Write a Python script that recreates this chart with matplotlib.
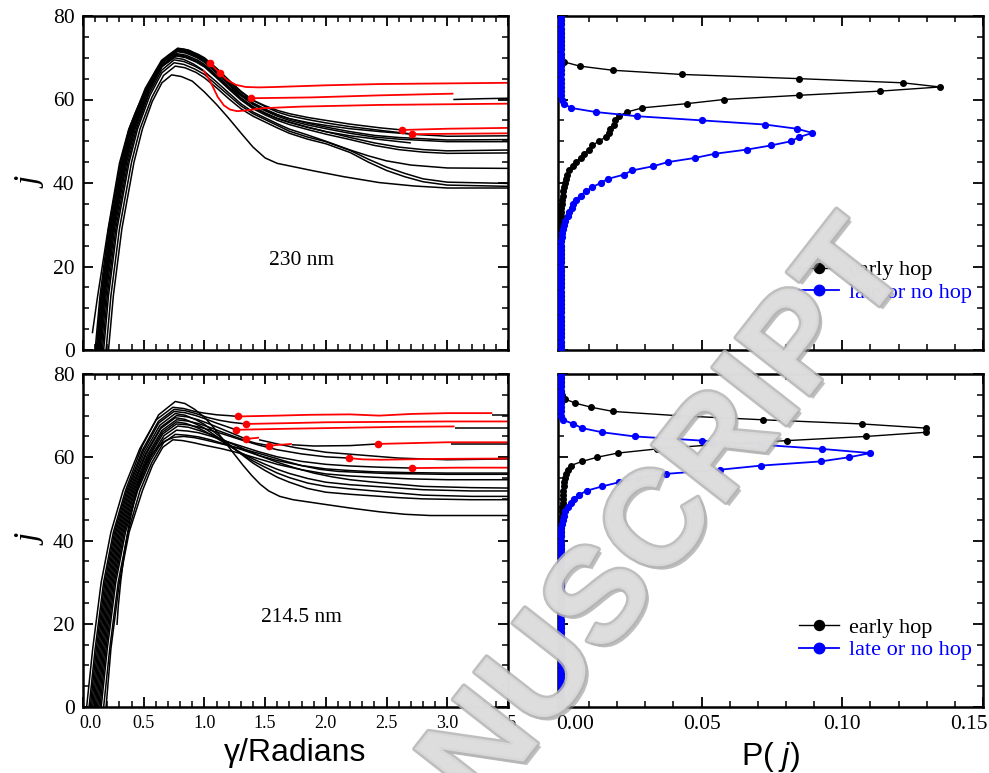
import matplotlib
matplotlib.use("Agg")
import matplotlib.pyplot as plt
import matplotlib.patheffects as pe
from matplotlib.ticker import MultipleLocator, FormatStrFormatter
from matplotlib.transforms import ScaledTranslation

plt.rcParams['font.family'] = ['Liberation Serif', 'DejaVu Serif']
plt.rcParams['mathtext.fontset'] = 'custom'
plt.rcParams['mathtext.it'] = 'Liberation Sans:italic'
plt.rcParams['mathtext.rm'] = 'Liberation Sans'

# ---- trajectories j(gamma), 230 nm ----
TOP_BLACK = [
    [(0.21, 0), (0.25, 13), (0.32, 29), (0.42, 45), (0.49, 53), (0.57, 59.5), (0.65, 64.0), (0.73, 65.9),
     (0.81, 65.5), (0.90, 64.4), (1.0, 61.8), (1.1, 58.8), (1.2, 55.5), (1.3, 52.0), (1.4, 48.6), (1.5, 46.0),
     (1.6, 44.7), (1.75, 43.8), (1.9, 42.9), (2.15, 41.5), (2.44, 40.1), (2.72, 39.3), (3.0, 38.8), (3.5, 38.8)],
    [(0.19, 0), (0.23, 13), (0.30, 29), (0.40, 45), (0.47, 53), (0.567, 60.5), (0.663, 65.75), (0.76, 68),
     (0.84, 67.6), (0.93, 66.5), (1.0, 65.2), (1.1, 62.8), (1.2, 60.2), (1.3, 57.8), (1.4, 56.0), (1.5, 54.6),
     (1.6, 53.2), (1.7, 51.9), (1.85, 50.5), (2.0, 49.4), (2.2, 47.3), (2.35, 45.0), (2.5, 43.0), (2.65, 41.5),
     (2.8, 40.3), (3.0, 39.5), (3.5, 39.2)],
    [(0.17, 0), (0.21, 13), (0.28, 29), (0.38, 45), (0.45, 53), (0.55, 60.9), (0.65, 66.4), (0.75, 68.8),
     (0.83, 68.4), (0.92, 67.3), (1.0, 66.0), (1.1, 63.5), (1.2, 61.0), (1.3, 58.5), (1.4, 56.6), (1.5, 55.2),
     (1.6, 53.8), (1.7, 52.4), (1.85, 51.0), (2.0, 49.9), (2.2, 47.8), (2.35, 45.7), (2.5, 43.8), (2.65, 42.3),
     (2.8, 41.0), (3.0, 40.2), (3.5, 39.9)],
    [(0.16, 0), (0.20, 13), (0.27, 29), (0.37, 45), (0.44, 53), (0.543, 61.3), (0.647, 67.0), (0.75, 69.5),
     (0.83, 69.1), (0.92, 68.0), (1.0, 66.7), (1.1, 64.2), (1.2, 61.6), (1.3, 59.0), (1.4, 57.0), (1.5, 55.6),
     (1.6, 54.2), (1.7, 52.9), (1.85, 51.5), (2.0, 50.0), (2.2, 47.9), (2.35, 46.5), (2.5, 45.3), (2.7, 44.3),
     (3.0, 43.6), (3.5, 43.5)],
    [(0.15, 0), (0.19, 13), (0.26, 29), (0.36, 45), (0.43, 53), (0.54, 61.75), (0.65, 67.9), (0.76, 70.5),
     (0.84, 70.1), (0.93, 69.0), (1.0, 67.8), (1.1, 65.2), (1.2, 62.5), (1.3, 59.9), (1.4, 57.8), (1.5, 56.3),
     (1.6, 55.0), (1.7, 54.0), (1.85, 52.8), (2.0, 51.7), (2.2, 50.4), (2.4, 49.0), (2.6, 48.0), (2.8, 47.4),
     (3.0, 47.1), (3.5, 47.2)],
    [(0.14, 0), (0.18, 13), (0.25, 29), (0.35, 45), (0.42, 53), (0.537, 62.0), (0.653, 68.3), (0.77, 71),
     (0.85, 70.6), (0.94, 69.5), (1.0, 68.4), (1.1, 65.8), (1.2, 63.0), (1.3, 60.4), (1.4, 58.3), (1.5, 56.8),
     (1.6, 55.5), (1.7, 54.6), (1.85, 53.4), (2.0, 52.3), (2.2, 50.9), (2.4, 49.6), (2.6, 48.6), (2.8, 48.0),
     (3.0, 47.7), (3.5, 47.9)],
    [(0.13, 0), (0.17, 13), (0.24, 29), (0.34, 45), (0.41, 53), (0.53, 62.25), (0.65, 68.7), (0.77, 71.5),
     (0.85, 71.1), (0.94, 70.0), (1.0, 68.9), (1.1, 66.3), (1.2, 63.5), (1.3, 60.9), (1.4, 58.8), (1.5, 57.3),
     (1.6, 56.0), (1.7, 55.0), (1.85, 53.9), (2.0, 53.0), (2.2, 51.9), (2.4, 51.0), (2.6, 50.5), (2.8, 50.2),
     (3.0, 49.9), (3.5, 49.9)],
    [(0.12, 0), (0.16, 13), (0.23, 29), (0.33, 45), (0.40, 53), (0.527, 62.4), (0.653, 69.0), (0.78, 71.8),
     (0.86, 71.4), (0.95, 70.2), (1.0, 69.4), (1.1, 66.8), (1.2, 64.0), (1.3, 61.4), (1.4, 59.2), (1.5, 57.7),
     (1.6, 56.4), (1.7, 55.4), (1.85, 54.3), (2.0, 53.4), (2.2, 52.3), (2.4, 51.4), (2.6, 50.9), (2.8, 50.6),
     (3.0, 50.3), (3.5, 50.4)],
    [(0.10, 0), (0.14, 13), (0.21, 29), (0.31, 45), (0.38, 53), (0.513, 62.7), (0.647, 69.4), (0.78, 72.3),
     (0.86, 71.9), (0.95, 70.8), (1.0, 70.0), (1.1, 67.5), (1.2, 64.7), (1.3, 62.0), (1.4, 59.8), (1.5, 58.3),
     (1.6, 57.0), (1.7, 56.1), (1.85, 55.2), (2.0, 54.4), (2.2, 53.5), (2.45, 52.6), (2.75, 51.6), (3.0, 51.2),
     (3.5, 51.3)],
    [(0.14, 0), (0.18, 13), (0.25, 29), (0.35, 45), (0.42, 53), (0.533, 61.9), (0.647, 68.1), (0.76, 70.8),
     (0.84, 70.4), (0.93, 69.3), (1.0, 68.1), (1.1, 65.5), (1.2, 62.8), (1.3, 60.2), (1.4, 58.1), (1.5, 56.6),
     (1.6, 55.4), (1.7, 54.5), (1.85, 53.3), (2.0, 52.3), (2.2, 51.3), (2.45, 50.4), (2.7, 49.6)],
    [(0.077, 4), (0.12, 12.8), (0.205, 28.7), (0.30, 44.7), (0.375, 52.7), (0.43, 56.8), (0.49, 60.7),
     (0.55, 64.3), (0.60, 66.9), (0.65, 68.9), (0.70, 70.5), (0.76, 71.7), (0.82, 72.1), (0.88, 71.7),
     (0.94, 70.7), (1.0, 69.6), (1.043, 68.8)],
    [(0.11, 0), (0.15, 13), (0.22, 29), (0.32, 45), (0.39, 53), (0.51, 61.5), (0.63, 67.5), (0.75, 70),
     (0.83, 69.6), (0.91, 68.5), (0.99, 67.0)],
    [(0.13, 0), (0.17, 13), (0.24, 29), (0.34, 45), (0.41, 53), (0.53, 61.75), (0.65, 67.9), (0.77, 70.5),
     (0.85, 70.1), (0.94, 69.0), (1.0, 68.0), (1.1, 65.4), (1.2, 62.9), (1.3, 61.0), (1.38, 60.3)],
    [(0.11, 0), (0.15, 13), (0.22, 29), (0.32, 45), (0.39, 53), (0.52, 62.5), (0.65, 69.2), (0.78, 72),
     (0.86, 71.6), (0.95, 70.5), (1.0, 69.7), (1.1, 67.2), (1.2, 64.4), (1.3, 61.8), (1.4, 59.8), (1.5, 58.5),
     (1.6, 57.4), (1.7, 56.6), (1.85, 55.7), (2.0, 55.0), (2.2, 54.1), (2.45, 53.2), (2.63, 52.7)],
    [(0.12, 0), (0.16, 13), (0.23, 29), (0.33, 45), (0.40, 53), (0.527, 62.3), (0.653, 68.8), (0.78, 71.6),
     (0.86, 71.2), (0.95, 70.1), (1.0, 69.2), (1.1, 66.6), (1.2, 63.8), (1.3, 61.2), (1.4, 59.0), (1.5, 57.5),
     (1.6, 56.3), (1.7, 55.4), (1.85, 54.5), (2.0, 53.8), (2.2, 53.0), (2.45, 52.3), (2.71, 51.7)],
    [(3.05, 60.0), (3.3, 60.2), (3.5, 60.3)],
]
TOP_RED = [
    [(0.99, 67.0), (1.03, 65.3), (1.07, 63.0), (1.11, 60.6), (1.16, 58.6), (1.21, 57.6), (1.27, 57.2),
     (1.35, 57.4), (1.47, 57.9), (1.8, 58.3), (2.44, 58.7), (3.5, 59.0)],
    [(1.043, 68.8), (1.125, 66.3), (1.19, 64.6), (1.26, 63.5), (1.34, 63.0), (1.45, 62.9), (1.59, 63.0),
     (2.0, 63.4), (2.44, 63.7), (3.5, 64.0)],
    [(1.38, 60.3), (1.88, 60.5), (2.45, 61.0), (3.05, 61.4)],
    [(2.63, 52.7), (3.0, 53.0), (3.5, 53.2)],
    [(2.71, 51.7), (3.1, 51.8), (3.5, 51.9)],
]
TOP_HOP_G = [1.043, 1.125, 1.38, 2.63, 2.71]
TOP_HOP_J = [68.8, 66.3, 60.3, 52.7, 51.7]

# ---- trajectories j(gamma), 214.5 nm ----
BOT_BLACK = [
    [(0.05, 0), (0.10, 14), (0.17, 30), (0.25, 42), (0.35, 52), (0.487, 62.7), (0.623, 70.2), (0.76, 73.4),
     (0.84, 72.9), (0.92, 71.5), (1.0, 69.6), (1.08, 67.0), (1.16, 64.0), (1.25, 60.6), (1.32, 58.0),
     (1.39, 55.6), (1.46, 53.5), (1.53, 51.9), (1.62, 50.6), (1.73, 49.8), (1.87, 49.2), (2.01, 48.6),
     (2.2, 47.8), (2.44, 46.9), (2.65, 46.3), (2.86, 46.0), (3.5, 46.0)],
    [(0.08, 0), (0.13, 14), (0.20, 30), (0.28, 42), (0.38, 52), (0.507, 61.25), (0.633, 67.7), (0.76, 70.5),
     (0.84, 70.1), (0.93, 69.0), (1.0, 67.9), (1.1, 65.6), (1.2, 63.2), (1.3, 60.8), (1.4, 58.6), (1.5, 56.8),
     (1.6, 55.2), (1.7, 54.0), (1.85, 52.5), (2.0, 51.6), (2.2, 51.1), (2.4, 50.7), (2.6, 50.3), (2.8, 50.0),
     (3.2, 49.8), (3.5, 49.8)],
    [(0.10, 0), (0.15, 14), (0.22, 30), (0.30, 42), (0.40, 52), (0.52, 60.75), (0.64, 66.9), (0.76, 69.5),
     (0.84, 69.1), (0.93, 68.0), (1.0, 67.0), (1.1, 65.0), (1.2, 62.9), (1.3, 60.9), (1.4, 59.1), (1.5, 57.6),
     (1.6, 56.2), (1.7, 55.1), (1.85, 53.8), (2.0, 53.0), (2.2, 52.4), (2.4, 51.9), (2.6, 51.4), (2.8, 50.9),
     (3.2, 50.6), (3.5, 50.6)],
    [(0.12, 0), (0.17, 14), (0.24, 30), (0.32, 42), (0.42, 52), (0.537, 60.25), (0.653, 66.0), (0.77, 68.5),
     (0.85, 68.1), (0.94, 67.1), (1.0, 66.3), (1.1, 64.6), (1.2, 62.8), (1.3, 61.1), (1.4, 59.6), (1.5, 58.3),
     (1.6, 57.1), (1.7, 56.1), (1.85, 54.9), (2.0, 54.0), (2.2, 53.4), (2.4, 53.0), (2.6, 52.6), (2.8, 52.2),
     (3.2, 51.9), (3.5, 51.9)],
    [(0.14, 0), (0.19, 14), (0.26, 30), (0.34, 42), (0.44, 52), (0.553, 59.75), (0.667, 65.2), (0.78, 67.5),
     (0.87, 67.2), (0.96, 66.4), (1.05, 65.5), (1.15, 64.2), (1.3, 62.3), (1.45, 60.4), (1.6, 58.8),
     (1.75, 57.4), (1.9, 56.2), (2.05, 55.3), (2.2, 54.6), (2.4, 54.0), (2.6, 53.5), (2.8, 53.0), (3.2, 52.7),
     (3.5, 52.6)],
    [(0.19, 0), (0.23, 14), (0.30, 30), (0.38, 42), (0.49, 52), (0.573, 58.1), (0.657, 62.4), (0.74, 64.2),
     (0.82, 64.0), (0.91, 63.5), (1.0, 62.9), (1.15, 62.0), (1.3, 60.9), (1.45, 59.6), (1.6, 58.3), (1.8, 57.0),
     (2.0, 56.0), (2.2, 55.5), (2.4, 55.2), (2.7, 54.8), (3.0, 54.6), (3.5, 54.6)],
    [(0.17, 0), (0.22, 14), (0.29, 30), (0.37, 42), (0.47, 52), (0.567, 58.75), (0.663, 63.5), (0.76, 65.5),
     (0.85, 65.3), (0.95, 64.9), (1.05, 64.2), (1.15, 63.3), (1.3, 61.9), (1.45, 60.4), (1.6, 59.2), (1.8, 58.0),
     (2.0, 57.2), (2.2, 56.8), (2.4, 56.5), (2.7, 56.3), (3.0, 56.2), (3.5, 56.2)],
    [(0.15, 0), (0.20, 14), (0.27, 30), (0.35, 42), (0.45, 52), (0.557, 59.25), (0.663, 64.3), (0.77, 66.5),
     (0.86, 66.3), (0.95, 65.9), (1.05, 65.1), (1.15, 64.1), (1.3, 62.7), (1.45, 61.3), (1.6, 60.1), (1.8, 59.0),
     (2.0, 58.3), (2.2, 57.9), (2.45, 57.6), (2.71, 57.4)],
    [(0.13, 0), (0.18, 14), (0.25, 30), (0.33, 42), (0.43, 52), (0.543, 60), (0.657, 65.6), (0.77, 68),
     (0.86, 67.8), (0.95, 67.3), (1.05, 66.5), (1.15, 65.6), (1.3, 64.2), (1.45, 62.9), (1.6, 61.8), (1.8, 60.8),
     (2.0, 60.1), (2.19, 59.8)],
    [(0.11, 0), (0.16, 14), (0.23, 30), (0.31, 42), (0.41, 52), (0.53, 60.5), (0.65, 66.45), (0.77, 69),
     (0.86, 68.7), (0.95, 68.1), (1.05, 67.1), (1.15, 66.0), (1.3, 64.4), (1.42, 63.4), (1.53, 62.8)],
    [(1.72, 63.0), (1.9, 62.7), (2.2, 62.8), (2.43, 63.2)],
    [(0.09, 0), (0.14, 14), (0.21, 30), (0.29, 42), (0.39, 52), (0.517, 61), (0.643, 67.3), (0.77, 70),
     (0.86, 69.7), (0.95, 69.0), (1.05, 67.9), (1.15, 66.7), (1.25, 65.5), (1.34, 64.4)],
    [(1.45, 64.2), (1.6, 63.2), (1.75, 62.3), (2.0, 61.2), (2.3, 60.5), (2.6, 59.8), (3.0, 59.4), (3.5, 59.6)],
    [(0.07, 0), (0.12, 14), (0.19, 30), (0.27, 42), (0.37, 52), (0.497, 61.5), (0.623, 68.2), (0.75, 71),
     (0.84, 70.7), (0.93, 70.0), (1.02, 69.1), (1.1, 68.2), (1.18, 67.4), (1.26, 66.6)],
    [(0.06, 0), (0.11, 14), (0.18, 30), (0.26, 42), (0.36, 52), (0.49, 61.75), (0.62, 68.6), (0.75, 71.5),
     (0.84, 71.2), (0.93, 70.5), (1.02, 69.6), (1.12, 68.9), (1.22, 68.4), (1.34, 68.0)],
    [(0.03, 0), (0.08, 14), (0.15, 30), (0.23, 42), (0.33, 52), (0.467, 62), (0.603, 69), (0.74, 72),
     (0.83, 71.7), (0.92, 71.0), (1.0, 70.6), (1.1, 70.2), (1.2, 70.0), (1.275, 69.8)],
    [(0.28, 19.7), (0.29, 24), (0.31, 30), (0.34, 37), (0.38, 44), (0.425, 50), (0.47, 54.5), (0.51, 57.8),
     (0.56, 60.4), (0.62, 62.6), (0.68, 64.0), (0.75, 64.8), (0.83, 65.0), (0.92, 64.7), (1.0, 64.2),
     (1.1, 63.5), (1.2, 62.8), (1.35, 61.7), (1.5, 60.5), (1.65, 59.2), (1.8, 58.0), (1.95, 57.1), (2.1, 56.6),
     (2.5, 56.1), (3.0, 55.9), (3.5, 55.9)],
    [(3.37, 70.2), (3.5, 70.2)],
    [(3.06, 67.0), (3.5, 67.0)],
    [(3.03, 63.3), (3.5, 63.3)],
]
BOT_RED = [
    [(1.275, 69.8), (1.6, 70.0), (1.87, 70.2), (2.2, 70.3), (2.44, 70.0), (2.7, 70.4), (3.0, 70.6), (3.37, 70.6)],
    [(1.34, 68.0), (1.7, 68.2), (2.0, 68.4), (2.5, 68.5), (3.0, 68.6), (3.5, 68.6)],
    [(1.26, 66.6), (1.6, 66.8), (2.0, 67.0), (2.6, 67.3), (3.06, 67.4)],
    [(1.34, 64.4), (1.45, 64.7)],
    [(1.53, 62.8), (1.72, 63.2)],
    [(2.43, 63.2), (3.0, 63.6), (3.5, 63.6)],
    [(2.19, 59.8), (2.3, 59.5), (2.45, 59.4), (2.9, 59.6), (3.5, 59.7)],
    [(2.71, 57.4), (3.1, 57.5), (3.5, 57.5)],
]
BOT_HOP_G = [1.275, 1.34, 1.26, 1.34, 1.53, 2.43, 2.19, 2.71]
BOT_HOP_J = [69.8, 68.0, 66.6, 64.4, 62.8, 63.2, 59.8, 57.4]

# ---- rotational distributions P(j) ----
J_LEVELS = list(range(81))
P_TOP_EARLY = [
    0, 0, 0, 0, 0, 0, 0, 0, 0, 0,
    0, 0, 0, 0, 0, 0, 0, 0, 0, 0,
    0, 0, 0, 0, 0, 0, 0, 0, 0, 0,
    0, 0, 0, 0, 0.0002, 0.0003, 0.0004, 0.0006, 0.0008, 0.0012,
    0.0015, 0.0018, 0.0022, 0.0029, 0.0045, 0.0053, 0.0070, 0.0082, 0.0100, 0.0112,
    0.0135, 0.0159, 0.0171, 0.0176, 0.0188, 0.0194, 0.0206, 0.0235, 0.029, 0.0447,
    0.058, 0.0845, 0.1133, 0.1347, 0.1215, 0.0845, 0.043, 0.0185, 0.0067, 0.0012,
    0, 0, 0, 0, 0, 0, 0, 0, 0, 0, 0,
]
P_TOP_LATE = [
    0, 0, 0, 0, 0, 0, 0, 0, 0, 0,
    0, 0, 0, 0, 0, 0, 0, 0, 0, 0,
    0, 0, 0, 0, 0, 0, 0.0002, 0.0003, 0.0005, 0.0007,
    0.0010, 0.0015, 0.0024, 0.0029, 0.0039, 0.0043, 0.0053, 0.0071, 0.0088, 0.0112,
    0.0141, 0.0168, 0.0224, 0.0253, 0.0327, 0.038, 0.0476, 0.0547, 0.0661, 0.0747,
    0.0818, 0.0847, 0.0894, 0.0838, 0.0726, 0.05, 0.027, 0.0124, 0.0035, 0.0012,
    0.0004, 0, 0, 0, 0, 0, 0, 0, 0, 0,
    0, 0, 0, 0, 0, 0, 0, 0, 0, 0, 0,
]
P_BOT_EARLY = [
    0, 0, 0, 0, 0, 0, 0, 0, 0, 0,
    0, 0, 0, 0, 0, 0, 0, 0, 0, 0,
    0, 0, 0, 0, 0, 0, 0, 0, 0, 0,
    0, 0, 0, 0, 0, 0, 0, 0, 0, 0,
    0, 0, 0, 0, 0, 0.0002, 0.0003, 0.0004, 0.0005, 0.0006,
    0.0007, 0.0008, 0.0009, 0.0010, 0.0012, 0.0015, 0.0018, 0.0024, 0.0035, 0.0076,
    0.0129, 0.0202, 0.0341, 0.0541, 0.0804, 0.1085, 0.1298, 0.1298, 0.107, 0.0718,
    0.0412, 0.0186, 0.0109, 0.0051, 0.0015, 0.0003, 0, 0, 0, 0, 0,
]
P_BOT_LATE = [
    0, 0, 0, 0, 0, 0, 0, 0, 0, 0,
    0, 0, 0, 0, 0, 0, 0, 0, 0, 0,
    0, 0, 0, 0, 0, 0, 0, 0, 0, 0,
    0, 0, 0, 0, 0, 0, 0, 0, 0, 0,
    0, 0, 0, 0.0002, 0.0004, 0.0008, 0.0011, 0.0015, 0.0024, 0.0035,
    0.0047, 0.0065, 0.0094, 0.0147, 0.0208, 0.0273, 0.0373, 0.0565, 0.0712, 0.0924,
    0.1024, 0.11, 0.0927, 0.0712, 0.05, 0.0262, 0.0147, 0.0076, 0.0044, 0.0008,
    0, 0, 0, 0, 0, 0, 0, 0, 0, 0, 0,
]
GAMMA_TICKS = [0.0, 0.5, 1.0, 1.5, 2.0, 2.5, 3.0, 3.5]
P_TICKS = [0.0, 0.05, 0.10, 0.15]
WAVELENGTHS = ['230 nm', '214.5 nm']
SERIES_LABELS = ['early hop', 'late or no hop']

W, H = 989, 773
fig = plt.figure(figsize=(W / 100, H / 100), dpi=100)


def rect(x0, y0, x1, y1):
    # pixel box -> figure fraction
    return [x0 / W, 1 - y1 / H, (x1 - x0) / W, (y1 - y0) / H]


ax_tl = fig.add_axes(rect(83, 16, 508, 350))
ax_tr = fig.add_axes(rect(558, 16, 983, 350))
ax_bl = fig.add_axes(rect(83, 374, 508, 707))
ax_br = fig.add_axes(rect(558, 374, 983, 707))


def style(ax, xticks, xmin):
    ax.set_xticks(xticks)
    ax.xaxis.set_minor_locator(MultipleLocator(xmin))
    ax.yaxis.set_major_locator(MultipleLocator(20))
    ax.yaxis.set_minor_locator(MultipleLocator(5))
    ax.tick_params(which='both', direction='in', top=True, right=True, labelsize=15.5, pad=6)
    ax.tick_params(which='major', length=7, width=1.3)
    ax.tick_params(which='minor', length=4, width=1.1)
    for s in ax.spines.values():
        s.set_linewidth(1.8)
    ax.set_ylim(0, 80)


def draw_paths(ax, paths, color, lw):
    for p in paths:
        ax.plot([q[0] for q in p], [q[1] for q in p], color=color, lw=lw,
                solid_joinstyle='round', solid_capstyle='butt')


def nudge_end_labels(ax, first_dx, last_dx):
    # pull the outermost tick labels inwards (offsets in points)
    labels = ax.get_xticklabels()
    for t, dx in ((labels[0], first_dx), (labels[-1], last_dx)):
        t.set_transform(t.get_transform() + ScaledTranslation(dx / 72, 0, fig.dpi_scale_trans))


for ax, black, red, hg, hj, label in [
        (ax_tl, TOP_BLACK, TOP_RED, TOP_HOP_G, TOP_HOP_J, WAVELENGTHS[0]),
        (ax_bl, BOT_BLACK, BOT_RED, BOT_HOP_G, BOT_HOP_J, WAVELENGTHS[1])]:
    style(ax, GAMMA_TICKS, 0.1)
    ax.set_xlim(0, 3.5)
    draw_paths(ax, black, 'black', 1.1)
    draw_paths(ax, red, 'red', 1.3)
    ax.plot(hg, hj, 'o', color='red', ms=5.5, mec='none', zorder=3)
    ax.text(1.8, 21.5, label, fontsize=15.5, ha='center', va='center')
    ax.set_ylabel('j', fontsize=24, fontstyle='italic', labelpad=4)

for ax, early, late in [(ax_tr, P_TOP_EARLY, P_TOP_LATE), (ax_br, P_BOT_EARLY, P_BOT_LATE)]:
    style(ax, P_TICKS, 0.01)
    ax.set_xlim(-0.001, 0.15)
    ax.plot(early, J_LEVELS, '-o', color='black', lw=1.0, ms=4.0, zorder=3, label=SERIES_LABELS[0])
    ax.plot(late, J_LEVELS, '-o', color='blue', lw=1.3, ms=4.2, zorder=3, label=SERIES_LABELS[1])
    ax.tick_params(labelleft=False)
    ax.legend(loc='center left', bbox_to_anchor=(0.54, 0.205), frameon=False, fontsize=16,
              handlelength=1.8, handletextpad=0.45, labelspacing=0.1, borderpad=0,
              markerscale=1.8, labelcolor='linecolor')

ax_tl.tick_params(labelbottom=False)
ax_tr.tick_params(labelbottom=False)
ax_bl.tick_params(axis='x', labelsize=13)
ax_bl.xaxis.set_major_formatter(FormatStrFormatter('%.1f'))
ax_br.xaxis.set_major_formatter(FormatStrFormatter('%.2f'))
ax_bl.set_xlabel('γ/Radians', fontsize=23, family='Liberation Sans', labelpad=4)
ax_br.set_xlabel('P( $j$)', fontsize=23, family='Liberation Sans', labelpad=4)
nudge_end_labels(ax_bl, 5, -2)
nudge_end_labels(ax_br, 10.5, -10.5)

# diagonal stamp across the lower half
fig.text(0.611, 0.222, 'MANUSCRIPT', fontsize=98, family='Liberation Sans', fontweight='bold',
         color='#dedede', alpha=0.85, rotation=52, ha='center', va='center', zorder=10,
         path_effects=[pe.SimplePatchShadow(offset=(2.5, -2.5), shadow_rgbFace='#8c8c8c', alpha=0.55),
                       pe.Stroke(linewidth=3.5, foreground='#b4b4b4'), pe.Normal()])

fig.savefig('out.png', dpi=100)
